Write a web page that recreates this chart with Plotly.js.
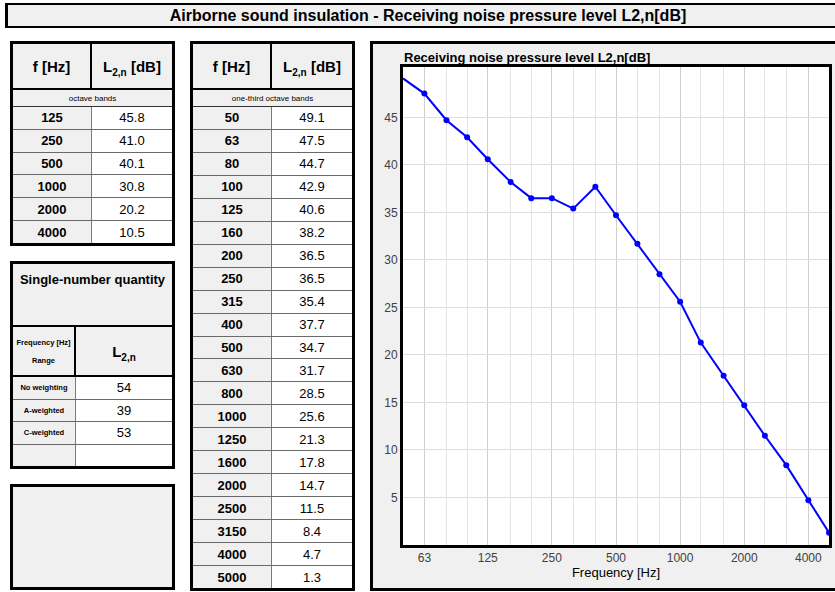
<!DOCTYPE html>
<html><head><meta charset="utf-8">
<script src="https://cdn.plot.ly/plotly-3.0.1.min.js"></script>
<style>
body{margin:0;background:#fff;font-family:"Liberation Sans",Arial,sans-serif;width:835px;height:592px;overflow:hidden;position:relative;color:#000;}
.box{position:absolute;box-sizing:border-box;border:3px solid #000;background:#f0f0f0;}
.tbl{display:flex;flex-direction:column;}
.row{display:flex;box-sizing:border-box;flex:none;}
.frow{flex:1 1 0;border-bottom:1px solid #6a6a6a;}
.frow:last-child{border-bottom:none;}
.cell{box-sizing:border-box;display:flex;align-items:center;justify-content:center;}
.fcell{background:#f0f0f0;font-weight:bold;font-size:13px;border-right:1px solid #7a7a7a;}
.vcell{background:#fff;font-size:13px;flex:1;}
.hdr{height:46px;border-bottom:2px solid #000;}
.hcell{font-weight:bold;font-size:15px;}
.sub{height:17px;border-bottom:1px solid #333;font-size:8px;justify-content:center;align-items:center;background:#f0f0f0;}
.sb{font-size:10px;position:relative;top:4px;}
</style></head>
<body>
<div id="title" class="box" style="left:5px;top:3px;width:846px;height:25px;border-width:2px 3px 2px 3px;display:flex;align-items:center;justify-content:center;font-weight:bold;font-size:16px;">Airborne sound insulation - Receiving noise pressure level L2,n[dB]</div>
<div id="t1" class="box tbl" style="left:10px;top:41px;width:165px;height:205px;"></div>
<div id="t2" class="box tbl" style="left:190px;top:41px;width:165px;height:550px;"></div>
<div id="t3" class="box tbl" style="left:10px;top:261px;width:165px;height:208px;"></div>
<div id="t4" class="box" style="left:10px;top:484px;width:165px;height:106px;"></div>
<div id="cbox" class="box" style="left:370px;top:41px;width:470px;height:550px;">
  <div id="chart" style="position:absolute;left:0;top:0;width:464px;height:544px;"></div>
</div>
<script>
// ---- data ----
const octaveFreqs = [125, 250, 500, 1000, 2000, 4000];
const octaveL2n = [45.8, 41.0, 40.1, 30.8, 20.2, 10.5];
const thirdFreqs = [50, 63, 80, 100, 125, 160, 200, 250, 315, 400, 500, 630, 800, 1000, 1250, 1600, 2000, 2500, 3150, 4000, 5000];
const thirdL2n = [49.1, 47.5, 44.7, 42.9, 40.6, 38.2, 36.5, 36.5, 35.4, 37.7, 34.7, 31.7, 28.5, 25.6, 21.3, 17.8, 14.7, 11.5, 8.4, 4.7, 1.3];
const singleLabels = ["No weighting", "A-weighted", "C-weighted"];
const singleValues = [54, 39, 53];
const xTickLabels = [63, 125, 250, 500, 1000, 2000, 4000];
const xGridFreqs = [63, 80, 100, 125, 160, 200, 250, 315, 400, 500, 630, 800, 1000, 1250, 1600, 2000, 2500, 3150, 4000];
const yTicks = [5, 10, 15, 20, 25, 30, 35, 40, 45];

// ---- tables ----
function freqTable(id, freqs, vals, subtitle) {
  const el = document.getElementById(id);
  let h = '<div class="row hdr"><div class="cell hcell" style="width:79px;border-right:2px solid #000;">f [Hz]</div>' +
          '<div class="cell hcell" style="flex:1;"><span>L<span class="sb">2,n</span>&nbsp;[dB]</span></div></div>';
  h += '<div class="row cell sub">' + subtitle + '</div>';
  for (let i = 0; i < freqs.length; i++) {
    h += '<div class="row frow"><div class="cell fcell" style="width:79px;">' + freqs[i] + '</div>' +
         '<div class="cell vcell">' + vals[i].toFixed(1) + '</div></div>';
  }
  el.innerHTML = h;
}
freqTable('t1', octaveFreqs, octaveL2n, 'octave bands');
freqTable('t2', thirdFreqs, thirdL2n, 'one-third octave bands');

(function () {
  const el = document.getElementById('t3');
  let h = '<div class="row" style="height:63px;border-bottom:2px solid #000;justify-content:center;padding-top:8px;font-weight:bold;font-size:13px;">Single-number quantity</div>';
  h += '<div class="row" style="height:50px;border-bottom:2px solid #000;">' +
       '<div class="cell" style="width:63px;border-right:2px solid #000;flex-direction:column;justify-content:space-around;font-weight:bold;font-size:7.5px;padding:6px 0;"><span>Frequency [Hz]</span><span>Range</span></div>' +
       '<div class="cell" style="flex:1;font-weight:bold;font-size:15px;"><span>L<span class="sb">2,n</span></span></div></div>';
  for (let i = 0; i < singleLabels.length + 1; i++) {
    const lab = i < singleLabels.length ? singleLabels[i] : '';
    const v = i < singleValues.length ? singleValues[i] : '';
    h += '<div class="row frow"><div class="cell fcell" style="width:63px;font-size:7.5px;">' + lab + '</div>' +
         '<div class="cell vcell">' + v + '</div></div>';
  }
  el.innerHTML = h;
})();

// ---- chart ----
const font = '"Liberation Sans", Arial, sans-serif';
Plotly.newPlot('chart', [{
  x: thirdFreqs, y: thirdL2n, type: 'scatter', mode: 'lines+markers',
  line: {color: '#0000ff', width: 2}, marker: {color: '#0000ff', size: 6},
  cliponaxis: false, hoverinfo: 'skip'
}], {
  width: 464, height: 544,
  margin: {l: 30, r: 8, t: 23, b: 43},
  paper_bgcolor: '#f0f0f0', plot_bgcolor: '#ffffff',
  font: {family: font, size: 12, color: '#404040'},
  showlegend: false,
  title: {text: '<b>Receiving noise pressure level L2,n[dB]</b>', xref: 'container', x: 31 / 464, xanchor: 'left',
          yref: 'container', y: 1 - 13 / 544, yanchor: 'middle', font: {family: font, size: 13, color: '#000'}},
  xaxis: {type: 'log', range: [Math.log10(thirdFreqs[0]), Math.log10(thirdFreqs[thirdFreqs.length - 1])],
          tickmode: 'array', tickvals: xTickLabels, ticktext: xTickLabels.map(String),
          showgrid: true, gridcolor: '#cfcfcf', gridwidth: 1,
          minor: {tickmode: 'array', tickvals: xGridFreqs.filter(f => !xTickLabels.includes(f)), showgrid: true, gridcolor: '#e4e4e4', ticks: ''},
          showline: true, mirror: true, linecolor: '#000', linewidth: 3, ticks: '', zeroline: false,
          tickfont: {family: font, size: 12, color: '#404040'},
          title: {text: 'Frequency [Hz]', font: {family: font, size: 13, color: '#000'}, standoff: 4}},
  yaxis: {range: [0, 50.3], tickmode: 'array', tickvals: yTicks, ticktext: yTicks.map(String),
          showgrid: true, gridcolor: '#dedede', gridwidth: 1,
          showline: true, mirror: true, linecolor: '#000', linewidth: 3, ticks: '', zeroline: false,
          tickfont: {family: font, size: 12, color: '#404040'}}
}, {displayModeBar: false, staticPlot: true});
</script>
</body></html>
